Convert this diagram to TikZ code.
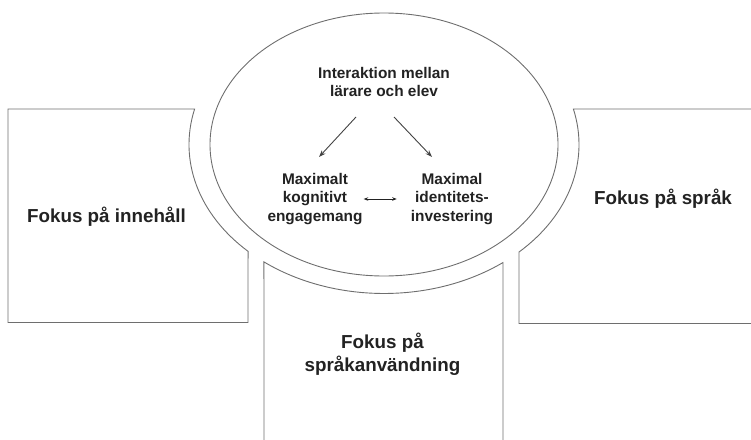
\documentclass[tikz,border=0pt]{standalone}
\usepackage{fontspec}
\setmainfont{Liberation Sans}
\usetikzlibrary{arrows.meta,calc}
\definecolor{linegray}{HTML}{6E6E6E}
\definecolor{txt}{HTML}{222222}
\tikzset{
  outline/.style={draw=linegray, line width=0.9pt},
  bigtxt/.style={text=txt, font=\bfseries\fontsize{18.8}{23}\selectfont, align=center, inner sep=0pt},
  smalltxt/.style={text=txt, font=\bfseries\fontsize{15.4}{18.7}\selectfont, align=center, inner sep=0pt},
  arr/.style={draw=txt!85!white, line width=0.9pt, -{Stealth[length=7pt,width=5pt]}},
  dblarr/.style={draw=txt, line width=0.8pt, {Stealth[length=4.5pt,width=3.5pt]}-{Stealth[length=4.5pt,width=3.5pt]}}
}
\begin{document}
\begin{tikzpicture}[x=1pt,y=-1pt]
\useasboundingbox (0,0) rectangle (751,439);
\clip (0,0) rectangle (751,439);
% left box
\draw[outline] (8,322.5) -- (8,109) -- (194.62,109)
  arc[start angle=193.79, end angle=134.2, x radius=195, y radius=149]
  -- (248,322.5) -- cycle;
% right box
\draw[outline] (770,109) -- (573.38,109)
  arc[start angle=-13.79, end angle=46.19, x radius=195, y radius=149]
  -- (519,323.5) -- (770,323.5);
% bottom box
\draw[outline] (264,460) -- (263.94,261.9)
  arc[start angle=128, end angle=52.4, x radius=195, y radius=149]
  -- (503,460);
% inner ellipse
\draw[outline] (384,144.5) ellipse [x radius=174, y radius=131.5];

\node[smalltxt] (top) at (384,82) {Interaktion mellan\\lärare och elev};
\node[smalltxt] (mk) at (315,199) {Maximalt\\kognitivt\\engagemang};
\node[smalltxt] (mi) at (452,199) {Maximal\\identitets-\\investering};

\node[bigtxt] (inn) at (106.5,217) {Fokus på innehåll};
\node[bigtxt] (spr) at (663,199) {Fokus på språk};
\node[bigtxt] (anv) at (382.5,354) {Fokus på\\språkanvändning};

\draw[arr] ($(top)+(-28,35)$) -- ($(mk)+(4,-42)$);
\draw[arr] ($(top)+(10,35)$) -- ($(mi)+(-20,-42)$);
\draw[dblarr, shorten <=1pt, shorten >=14pt] (mk) -- (mi);
\end{tikzpicture}
\end{document}
